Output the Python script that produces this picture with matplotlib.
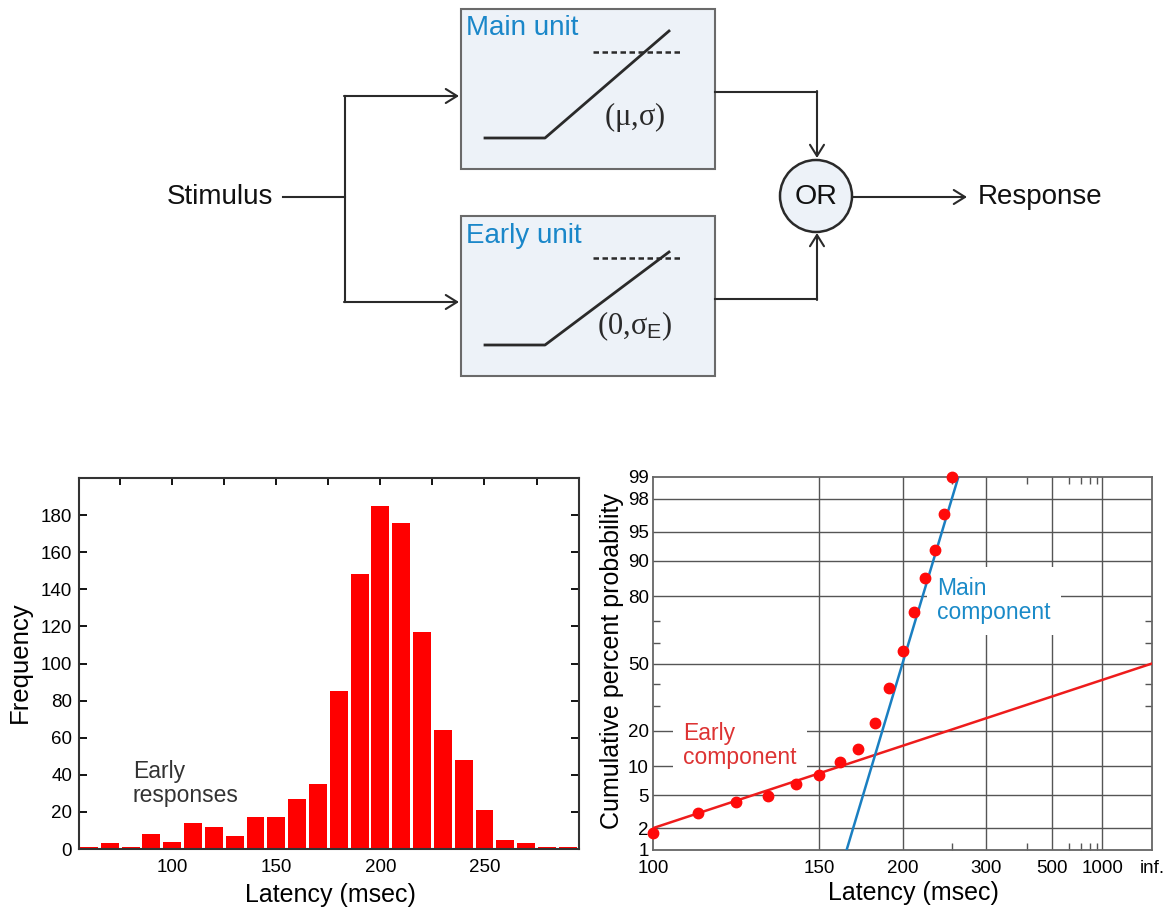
import numpy as np
import matplotlib
matplotlib.use("Agg")
import matplotlib.pyplot as plt
from matplotlib.patches import Rectangle, Circle
from matplotlib.ticker import MultipleLocator, FixedLocator
from statistics import NormalDist

plt.rcParams['font.family'] = ['Liberation Sans', 'DejaVu Sans']
plt.rcParams['mathtext.fontset'] = 'custom'
plt.rcParams['mathtext.rm'] = 'Liberation Serif'
plt.rcParams['mathtext.it'] = 'Liberation Serif'
plt.rcParams['mathtext.sf'] = 'Liberation Sans'

# ---------------- data: histogram ----------------
bin_centers = [60, 70, 80, 90, 100, 110, 120, 130, 140, 150, 160, 170,
               180, 190, 200, 210, 220, 230, 240, 250, 260, 270, 280, 290]
frequency = [1, 3, 1, 8, 4, 14, 12, 7, 17, 17, 27, 35,
             85, 148, 185, 176, 117, 64, 48, 21, 5, 3, 1, 1]
hist_xticks = [100, 150, 200, 250]
hist_yticks = [0, 20, 40, 60, 80, 100, 120, 140, 160, 180]

# ---------------- data: reciprobit ----------------
latency_pts = [100, 110, 120, 130, 140, 150, 160, 170, 180, 190, 200,
               210, 220, 230, 240, 250]
cum_pct = [1.7, 3.1, 4.2, 4.9, 6.7, 8.3, 11.0, 14.4, 22.8, 37.8, 56.1,
           73.8, 85.6, 92.1, 96.9, 99.0]
early_fit_latency = [100, np.inf]
early_fit_pct = [2, 50]
main_fit_latency = [163.4, 257.7]
main_fit_pct = [1, 99]
recip_xticks = [100, 150, 200, 300, 500, 1000, np.inf]
recip_xlabels = ['100', '150', '200', '300', '500', '1000', 'inf.']
recip_grid = [150, 200, 300, 500, 1000]
recip_minor = [250, 400, 600, 700, 800, 900]
prob_ticks = [1, 2, 5, 10, 20, 50, 80, 90, 95, 98, 99]
prob_grid = [2, 5, 10, 20, 50, 80, 90, 95, 98]
prob_minor = [30, 40, 60, 70]

nd = NormalDist()


def probit(p):
    return np.array([nd.inv_cdf(v / 100.0) for v in np.atleast_1d(p)])


def recip(t):
    return -1.0 / np.asarray(t, dtype=float)


W, H = 1171, 911
fig = plt.figure(figsize=(W / 100, H / 100), dpi=100)

# ---------------- diagram (pixel coordinates) ----------------
axd = fig.add_axes([0, 0, 1, 1])
axd.set_xlim(0, W)
axd.set_ylim(H, 0)
axd.axis('off')

ink = '#2a2a2a'
box_fc = '#edf2f8'
box_ec = '#6a6a6a'
blue_txt = '#1a87c9'
for (y0, lab, ytxt) in [(9, 'Main unit', 28), (216, 'Early unit', 236)]:
    axd.add_patch(Rectangle((461, y0), 254, 160, fc=box_fc, ec=box_ec, lw=1.5))
    axd.text(466, ytxt, lab, color=blue_txt, fontsize=20, ha='left', va='center')

axd.plot([485, 545, 669], [138, 138, 31], color=ink, lw=2)
axd.plot([593, 680], [52, 52], color=ink, lw=1.8, ls=(0, (2.2, 1.4)))
axd.plot([485, 545, 669], [345, 345, 252], color=ink, lw=2)
axd.plot([593, 680], [258, 258], color=ink, lw=1.8, ls=(0, (2.2, 1.4)))
axd.text(635, 117, r'$(\mu{,}\sigma)$', fontsize=22, ha='center', va='center', color=ink)
axd.text(635, 326, r'$(0{,}\sigma_{\mathsf{E}})$', fontsize=22, ha='center', va='center', color=ink)

axd.text(167, 197, 'Stimulus', fontsize=20, ha='left', va='center', color='#111')
axd.plot([283, 345], [197, 197], color=ink, lw=1.5)
axd.plot([345, 345], [96, 302], color=ink, lw=1.5)
ap = dict(arrowstyle='->,head_length=0.45,head_width=0.28', lw=1.5, color=ink,
          mutation_scale=18, shrinkA=0, shrinkB=0)
axd.annotate('', xy=(459, 96), xytext=(344, 96), arrowprops=ap)
axd.annotate('', xy=(459, 302), xytext=(344, 302), arrowprops=ap)

axd.plot([715, 817], [92, 92], color=ink, lw=1.5)
axd.annotate('', xy=(817, 158), xytext=(817, 91), arrowprops=ap)
axd.plot([715, 817], [299, 299], color=ink, lw=1.5)
axd.annotate('', xy=(817, 233), xytext=(817, 300), arrowprops=ap)
axd.add_patch(Circle((816, 196), 36, fc=box_fc, ec=ink, lw=1.8))
axd.text(816, 197, 'OR', fontsize=20.5, ha='center', va='center', color='#111')
axd.annotate('', xy=(967, 197), xytext=(852, 197), arrowprops=ap)
axd.text(978, 197, 'Response', fontsize=20, ha='left', va='center', color='#111')

# ---------------- histogram ----------------
axh = fig.add_axes([79 / W, 1 - 849 / H, 500 / W, 371 / H])
axh.bar(bin_centers, frequency, width=8.6, color='#ff0000', zorder=2)
axh.set_xlim(55.2, 295.4)
axh.set_ylim(0, 200)
axh.set_xticks(hist_xticks)
axh.set_yticks(hist_yticks)
axh.xaxis.set_minor_locator(MultipleLocator(25))
axh.tick_params(axis='x', which='major', bottom=False, top=True, length=5,
                width=1.3, pad=7, labelsize=13.5, direction='in', labelbottom=True)
axh.tick_params(axis='x', which='minor', bottom=False, top=True, direction='in',
                length=5, width=1.3)
axh.tick_params(axis='y', direction='in', left=True, right=True, length=6,
                width=1.3, labelsize=13.5, pad=5)
for s in axh.spines.values():
    s.set_linewidth(1.5)
    s.set_color('#333333')
axh.set_xlabel('Latency (msec)', fontsize=18)
axh.set_ylabel('Frequency', fontsize=18.5)
axh.xaxis.set_label_coords(0.503, -0.124)
axh.xaxis.label.set_va('center')
axh.yaxis.set_label_coords(-0.118, 0.504)
axh.yaxis.label.set_va('center')
axh.text(0.108, 0.176, 'Early\nresponses', transform=axh.transAxes, fontsize=16.5,
         color='#333333', ha='left', va='center', linespacing=1.05)

# ---------------- reciprobit ----------------
axp = fig.add_axes([653 / W, 1 - 850 / H, 499 / W, 373 / H])
axp.set_xlim(recip(100), recip(np.inf))
axp.set_ylim(probit(1)[0], probit(99)[0])
for v in recip_grid:
    axp.axvline(recip(v), color='#555555', lw=1.0, zorder=1)
for v in prob_grid:
    axp.axhline(probit(v)[0], color='#555555', lw=1.0, zorder=1)

axp.plot(recip(early_fit_latency), probit(early_fit_pct), color='#ee1c1c', lw=1.8, zorder=3)
axp.plot(recip(main_fit_latency), probit(main_fit_pct), color='#1a7fc1', lw=1.8, zorder=3)
axp.plot(recip(latency_pts), probit(cum_pct), 'o', color='#ff0a0a', ms=7.5,
         clip_on=False, zorder=4)

axp.set_xticks(recip(recip_xticks))
axp.set_xticklabels(recip_xlabels)
axp.set_yticks(probit(prob_ticks))
axp.set_yticklabels([str(v) for v in prob_ticks])
axp.xaxis.set_minor_locator(FixedLocator(recip(recip_minor)))
axp.yaxis.set_minor_locator(FixedLocator(probit(prob_minor)))
axp.tick_params(axis='x', which='major', length=0, pad=7, labelsize=13.5)
axp.tick_params(axis='y', which='major', length=0, pad=3, labelsize=13.5)
axp.tick_params(axis='x', which='minor', top=True, bottom=True, direction='in',
                length=5, width=1.0, color='#555555')
axp.tick_params(axis='y', which='minor', left=True, right=True, direction='in',
                length=5, width=1.0, color='#555555')
for s in axp.spines.values():
    s.set_linewidth(1.3)
    s.set_color('#666666')
axp.set_xlabel('Latency (msec)', fontsize=18)
axp.set_ylabel('Cumulative percent probability', fontsize=18)
axp.xaxis.set_label_coords(0.522, -0.115)
axp.xaxis.label.set_va('center')
axp.yaxis.set_label_coords(-0.082, 0.507)
axp.yaxis.label.set_va('center')

bb = dict(boxstyle='square,pad=0.45', fc='white', ec='none')
axp.text(0.569, 0.668, 'Main\ncomponent', transform=axp.transAxes, fontsize=16.5,
         color='#1a8ac8', ha='left', va='center', linespacing=1.05, bbox=bb, zorder=2.5)
axp.text(0.060, 0.28, 'Early\ncomponent', transform=axp.transAxes, fontsize=16.5,
         color='#dd3333', ha='left', va='center', linespacing=1.05, bbox=bb, zorder=2.5)

fig.savefig('out.png', dpi=100)
